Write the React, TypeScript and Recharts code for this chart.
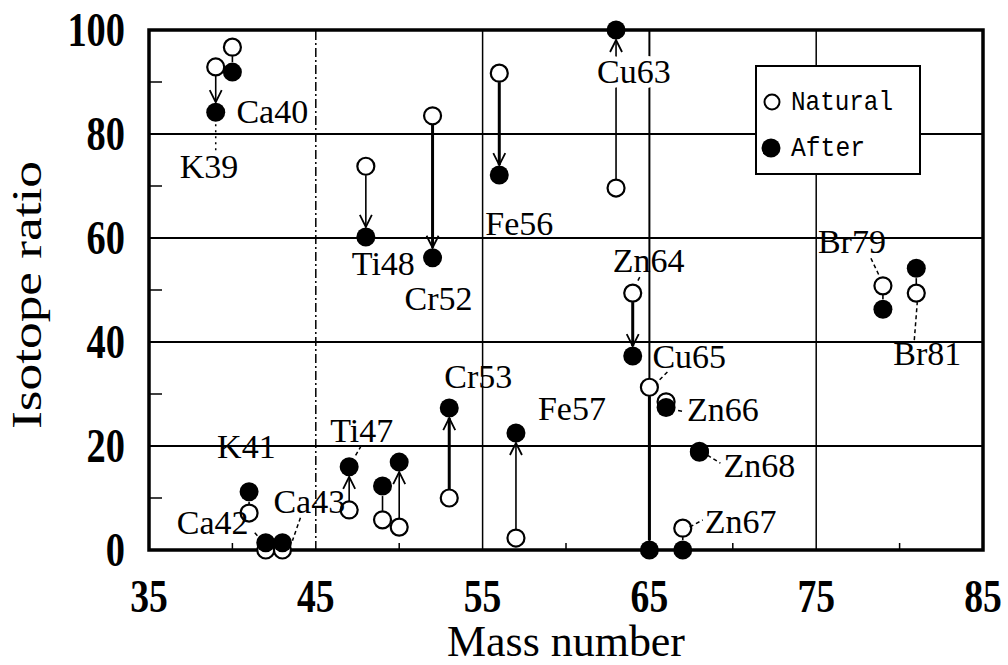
import React from 'react';
import { ScatterChart, Scatter, XAxis, YAxis, ReferenceLine, ReferenceArea } from 'recharts';

// isotope ratios before (natural abundance) and after treatment
const isotopes = ['K39', 'Ca40', 'K41', 'Ca42', 'Ca43', 'Ti47', 'Ti48', 'Ti49', 'Ti50', 'Cr52', 'Cr53', 'Fe56', 'Fe57', 'Cu63', 'Zn64', 'Cu65', 'Zn66', 'Zn67', 'Zn68', 'Br79', 'Br81'];
const massNumbers = [39, 40, 41, 42, 43, 47, 48, 49, 50, 52, 53, 56, 57, 63, 64, 65, 66, 67, 68, 79, 81];
const naturalRatio = [92.9, 96.7, 7.1, 0, 0, 7.7, 73.8, 5.8, 4.4, 83.5, 10.0, 91.7, 2.3, 69.6, 49.4, 31.3, 28.5, 4.2, 18.8, 50.8, 49.4];
const afterRatio = [84.2, 91.9, 11.2, 1.4, 1.4, 16.0, 60.2, 12.3, 16.9, 56.2, 27.3, 72.1, 22.5, 100, 37.3, 0, 27.4, 0, 19.0, 46.3, 54.2];

const xTicks = [35, 40, 45, 50, 55, 60, 65, 70, 75, 80, 85];
const xMajorTicks = [35, 45, 55, 65, 75, 85];
const yTicks = [0, 10, 20, 30, 40, 50, 60, 70, 80, 90, 100];
const yMajorTicks = [0, 20, 40, 60, 80, 100];
const gridX = [45, 55, 65, 75];
const gridY = [20, 40, 60, 80];

const naturalData = isotopes.map((name, i) => ({ name, mass: massNumbers[i], ratio: naturalRatio[i] }));
const afterData = isotopes.map((name, i) => ({ name, mass: massNumbers[i], ratio: afterRatio[i] }));

// label placement, pixel offsets from the "after" marker; leader = [x1, y1, x2, y2]
const LABEL_LAYOUT: Record<string, { dx: number; dy: number; leader?: number[]; dotted?: boolean; halo?: boolean }> = {
  K39: { dx: -36, dy: 66, leader: [0, 12, 0, 40], dotted: true },
  Ca40: { dx: 4, dy: 51 },
  K41: { dx: -32, dy: -34 },
  Ca42: { dx: -89, dy: -9, leader: [-11, -10, -4, -2] },
  Ca43: { dx: -9, dy: -30, leader: [18, -25, 10, -2] },
  Ti47: { dx: -19, dy: -25, leader: [12, -21, 5, -9] },
  Ti48: { dx: -14, dy: 38 },
  Cr52: { dx: -28, dy: 52 },
  Cr53: { dx: -5, dy: -20 },
  Fe56: { dx: -14, dy: 60 },
  Fe57: { dx: 22, dy: -13 },
  Cu63: { dx: -19, dy: 53, halo: true },
  Zn64: { dx: -20, dy: -84, leader: [7, -79, 4, -73] },
  Cu65: { dx: 3, dy: -182, leader: [18, -178, 8, -168] },
  Zn66: { dx: 21, dy: 13, leader: [12, 3, 17, 4] },
  Zn67: { dx: 22, dy: -17, leader: [7, -23, 20, -30] },
  Zn68: { dx: 24, dy: 26, leader: [8, 4, 21, 12] },
  Br79: { dx: -65, dy: -56, leader: [-12, -51, -3, -32] },
  Br81: { dx: -23, dy: 97, leader: [-2, 72, 1, 34] },
};

const BOLD_STEMS = new Set(['Cr52', 'Cr53', 'Fe56', 'Zn64', 'Cu65']);
const NO_ARROW = new Set(['Cu65']);

const SERIF = '"Liberation Serif", "DejaVu Serif", serif';
const MONO = '"Liberation Mono", "DejaVu Sans Mono", monospace';

function Stem(props: any) {
  const { x1, y1, x2, y2, bold, arrow } = props;
  if (x1 == null || y1 == null) return null;
  const sign = y2 > y1 ? 1 : -1;
  const start = y1 + sign * 9;
  const end = y2 - sign * 10;
  if ((end - start) * sign <= 0) return null;
  const showArrow = arrow && Math.abs(end - start) > 24;
  return (
    <g>
      <line x1={x1} y1={start} x2={x2} y2={end} stroke="#000" strokeWidth={bold ? 3 : 1.6} />
      {showArrow && (
        <polyline
          points={`${x2 - 6},${end - sign * 12} ${x2},${end} ${x2 + 6},${end - sign * 12}`}
          fill="none"
          stroke="#000"
          strokeWidth={1.8}
        />
      )}
    </g>
  );
}

function NaturalDot(props: any) {
  const { cx, cy } = props;
  return <circle cx={cx} cy={cy} r={8.5} fill="#fff" stroke="#000" strokeWidth={2.2} />;
}

function AfterDot(props: any) {
  const { cx, cy } = props;
  return <circle cx={cx} cy={cy} r={9.5} fill="#000" />;
}

function IsotopeLabel(props: any) {
  const { cx, cy, payload } = props;
  const layout = LABEL_LAYOUT[payload?.name];
  if (!layout || cx == null) return <g />;
  const l = layout.leader;
  return (
    <g>
      {l && (
        <line
          x1={cx + l[0]}
          y1={cy + l[1]}
          x2={cx + l[2]}
          y2={cy + l[3]}
          stroke="#000"
          strokeWidth={1.5}
          strokeDasharray={layout.dotted ? '2 4' : '4 3'}
        />
      )}
      <text
        x={cx + layout.dx}
        y={cy + layout.dy}
        fontFamily={SERIF}
        fontSize={34}
        fill="#000"
        stroke={layout.halo ? '#fff' : 'none'}
        strokeWidth={layout.halo ? 10 : 0}
        paintOrder="stroke"
      >
        {payload.name}
      </text>
    </g>
  );
}

function XTick(props: any) {
  const { x, y, payload } = props;
  const major = xMajorTicks.includes(payload.value);
  return (
    <g>
      {!major && <line x1={x} y1={y} x2={x} y2={y - 7} stroke="#000" strokeWidth={1.5} />}
      {major && (
        <g transform={`translate(${x},${y + 62}) scale(0.8,1)`}>
          <text x={0} y={0} textAnchor="middle" fontFamily={SERIF} fontWeight="bold" fontSize={47} fill="#000">
            {payload.value}
          </text>
        </g>
      )}
    </g>
  );
}

function YTick(props: any) {
  const { x, y, payload } = props;
  const major = yMajorTicks.includes(payload.value);
  return (
    <g>
      {!major && <line x1={x} y1={y} x2={x + 13} y2={y} stroke="#000" strokeWidth={1.5} />}
      {major && (
        <g transform={`translate(${x - 24},${y + 16}) scale(0.8,1)`}>
          <text x={0} y={0} textAnchor="end" fontFamily={SERIF} fontWeight="bold" fontSize={48} fill="#000">
            {payload.value}
          </text>
        </g>
      )}
    </g>
  );
}

function LegendBox() {
  return (
    <svg width={166} height={110} style={{ display: 'block' }}>
      <rect x={1} y={1} width={164} height={108} fill="#fff" stroke="#000" strokeWidth={2} />
      <circle cx={17} cy={37} r={7.5} fill="#fff" stroke="#000" strokeWidth={2} />
      <text x={36} y={45} fontFamily={MONO} fontSize={28} textLength={102} lengthAdjust="spacingAndGlyphs" fill="#000">
        Natural
      </text>
      <circle cx={16} cy={83} r={9.5} fill="#000" />
      <text x={36} y={91} fontFamily={MONO} fontSize={28} textLength={74} lengthAdjust="spacingAndGlyphs" fill="#000">
        After
      </text>
    </svg>
  );
}

export default function App() {
  return (
    <div style={{ position: 'absolute', left: 0, top: 0, width: 1008, height: 665, background: '#fff' }}>
      <ScatterChart width={1008} height={665} margin={{ top: 30, right: 25, bottom: 0, left: 0 }}>
        <XAxis
          type="number"
          dataKey="mass"
          domain={[35, 85]}
          ticks={xTicks}
          tick={<XTick />}
          tickLine={false}
          axisLine={false}
          tickSize={0}
          tickMargin={0}
          height={115}
          interval={0}
          label={(p: any) => {
            const vb = p.viewBox;
            return (
              <text
                x={vb.x + vb.width / 2}
                y={vb.y + 106}
                textAnchor="middle"
                fontFamily={SERIF}
                fontSize={44}
                textLength={238}
                lengthAdjust="spacingAndGlyphs"
                fill="#000"
              >
                Mass number
              </text>
            );
          }}
        />
        <YAxis
          type="number"
          dataKey="ratio"
          domain={[0, 100]}
          ticks={yTicks}
          tick={<YTick />}
          tickLine={false}
          axisLine={false}
          tickSize={0}
          tickMargin={0}
          width={149}
          interval={0}
          label={(p: any) => {
            const vb = p.viewBox;
            const cy = vb.y + vb.height / 2 + 5;
            return (
              <text
                x={41}
                y={cy}
                transform={`rotate(-90, 41, ${cy})`}
                textAnchor="middle"
                fontFamily={SERIF}
                fontSize={42}
                textLength={268}
                lengthAdjust="spacingAndGlyphs"
                fill="#000"
              >
                Isotope ratio
              </text>
            );
          }}
        />
        {gridY.map((v) => (
          <ReferenceLine key={`gy${v}`} y={v} stroke="#000" strokeWidth={2} />
        ))}
        {gridX.map((v) => (
          <ReferenceLine
            key={`gx${v}`}
            x={v}
            stroke="#000"
            strokeWidth={v === 65 ? 2 : 1.5}
            strokeDasharray={v === 45 ? '9 3 2 3' : undefined}
          />
        ))}
        <ReferenceArea x1={35} x2={85} y1={0} y2={100} fill="none" stroke="#000" strokeWidth={3.5} />
        {isotopes.map((name, i) => (
          <ReferenceLine
            key={`stem${name}`}
            segment={[
              { x: massNumbers[i], y: naturalRatio[i] },
              { x: massNumbers[i], y: afterRatio[i] },
            ]}
            stroke="#000"
            shape={(p: any) => <Stem {...p} bold={BOLD_STEMS.has(name)} arrow={!NO_ARROW.has(name)} />}
          />
        ))}
        <Scatter name="Natural" data={naturalData} shape={<NaturalDot />} isAnimationActive={false} />
        <Scatter name="After" data={afterData} shape={<AfterDot />} isAnimationActive={false} />
        <Scatter name="labels" data={afterData} shape={<IsotopeLabel />} legendType="none" isAnimationActive={false} />
      </ScatterChart>
      <div style={{ position: 'absolute', left: 755, top: 65, width: 166, height: 110 }}>
        <LegendBox />
      </div>
    </div>
  );
}
